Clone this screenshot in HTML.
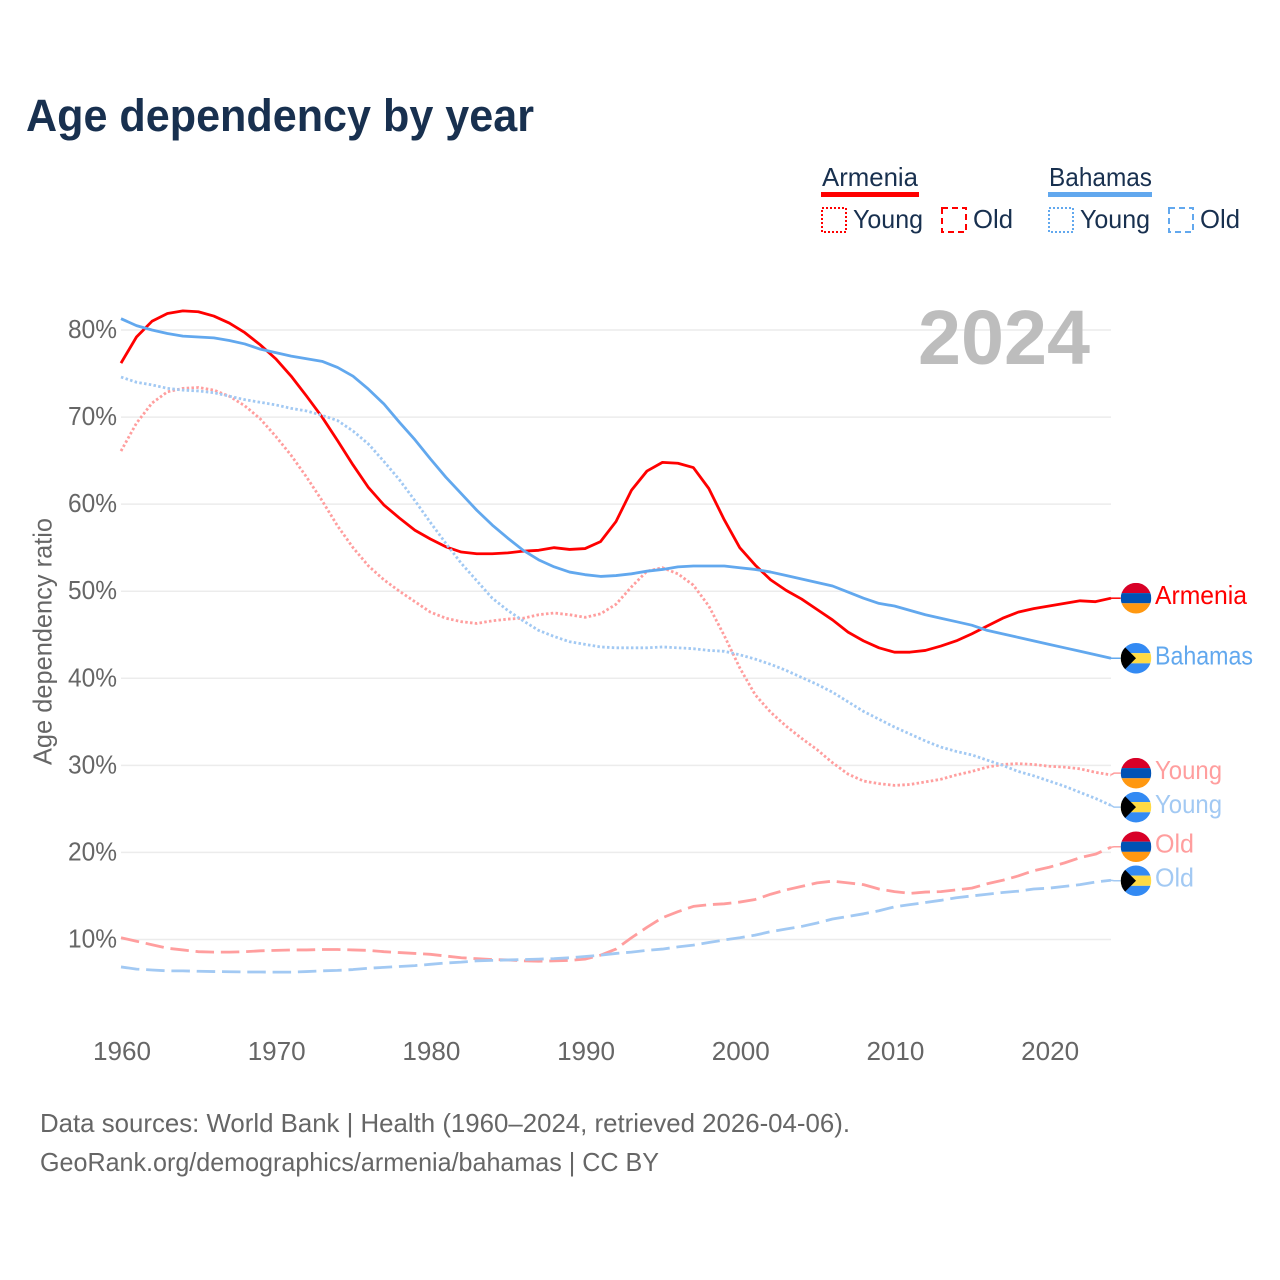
<!DOCTYPE html>
<html lang="en">
<head>
<meta charset="utf-8">
<title>Age dependency by year</title>
<style>
  html, body { margin: 0; padding: 0; background: #fff; }
  svg { display: block; }
  text { font-family: "Liberation Sans", sans-serif; }
</style>
</head>
<body>
<svg id="chart" xmlns="http://www.w3.org/2000/svg" width="1280" height="1280" viewBox="0 0 1280 1280">
  <rect x="0" y="0" width="1280" height="1280" fill="#ffffff"/>
  <text x="26" y="131" font-size="45" font-weight="700" fill="#18304f" textLength="508" lengthAdjust="spacingAndGlyphs">Age dependency by year</text>

  <g>
    <g>
      <text x="822" y="186" font-size="26" fill="#18304f" textLength="96" lengthAdjust="spacingAndGlyphs">Armenia</text>
      <rect x="821" y="192" width="98" height="5" fill="#ff0000"/>
      <rect x="822" y="208" width="24" height="24" fill="none" stroke="#ff0000" stroke-width="2" stroke-dasharray="2 2"/>
      <text x="853" y="228" font-size="26" fill="#18304f" textLength="70" lengthAdjust="spacingAndGlyphs">Young</text>
      <rect x="942" y="208" width="24" height="24" fill="none" stroke="#ff0000" stroke-width="2" stroke-dasharray="6 4"/>
      <text x="973" y="228" font-size="26" fill="#18304f" textLength="40" lengthAdjust="spacingAndGlyphs">Old</text>
    </g>
    <g>
      <text x="1049" y="186" font-size="26" fill="#18304f" textLength="103" lengthAdjust="spacingAndGlyphs">Bahamas</text>
      <rect x="1048" y="192" width="104" height="5" fill="#62a8ee"/>
      <rect x="1049" y="208" width="24" height="24" fill="none" stroke="#62a8ee" stroke-width="2" stroke-dasharray="2 2"/>
      <text x="1080" y="228" font-size="26" fill="#18304f" textLength="70" lengthAdjust="spacingAndGlyphs">Young</text>
      <rect x="1169" y="208" width="24" height="24" fill="none" stroke="#62a8ee" stroke-width="2" stroke-dasharray="6 4"/>
      <text x="1200" y="228" font-size="26" fill="#18304f" textLength="40" lengthAdjust="spacingAndGlyphs">Old</text>
    </g>
  </g>

  <g id="grid"></g>
  <text x="918" y="364" font-size="77" font-weight="700" fill="#bdbdbd" textLength="172" lengthAdjust="spacingAndGlyphs">2024</text>
  <g id="yticks"></g>
  <g id="xticks"></g>
  <text transform="translate(51.5 641.5) rotate(-90)" text-anchor="middle" font-size="26" fill="#666666" textLength="247" lengthAdjust="spacingAndGlyphs">Age dependency ratio</text>
  <g id="series"></g>
  <g id="labels"></g>

  <text x="40" y="1132" font-size="26" fill="#666666" textLength="810" lengthAdjust="spacingAndGlyphs">Data sources: World Bank | Health (1960–2024, retrieved 2026-04-06).</text>
  <text x="40" y="1171" font-size="26" fill="#666666" textLength="619" lengthAdjust="spacingAndGlyphs">GeoRank.org/demographics/armenia/bahamas | CC BY</text>
</svg>

<script>
const startYear = 1960;
const endYear = 2024;
const xTickYears = [1960, 1970, 1980, 1990, 2000, 2010, 2020];
const yTickValues = [10, 20, 30, 40, 50, 60, 70, 80];

const armeniaTotal = [76.2,79.2,81.0,81.9,82.2,82.1,81.6,80.8,79.7,78.3,76.7,74.7,72.4,70.0,67.3,64.5,61.9,59.9,58.4,57.0,56.0,55.1,54.5,54.3,54.3,54.4,54.6,54.7,55.0,54.8,54.9,55.7,58.0,61.6,63.8,64.8,64.7,64.2,61.8,58.2,55.0,53.0,51.3,50.1,49.1,47.9,46.7,45.3,44.3,43.5,43.0,43.0,43.2,43.7,44.3,45.1,46.0,46.9,47.6,48.0,48.3,48.6,48.9,48.8,49.2];
const armeniaYoung = [66.1,69.3,71.6,72.9,73.3,73.4,73.1,72.4,71.3,69.8,67.8,65.6,63.1,60.4,57.5,55.0,52.9,51.3,50.0,48.8,47.6,46.9,46.5,46.3,46.6,46.8,46.9,47.3,47.5,47.3,47.0,47.4,48.5,50.5,52.3,52.7,52.0,50.7,48.3,44.9,41.2,38.1,36.1,34.5,33.1,31.8,30.3,29.0,28.2,27.9,27.7,27.8,28.1,28.4,28.9,29.3,29.8,30.1,30.2,30.1,29.9,29.8,29.6,29.2,28.9];
const armeniaOld = [10.2,9.8,9.4,9.0,8.8,8.6,8.55,8.55,8.6,8.7,8.75,8.8,8.8,8.85,8.85,8.8,8.75,8.6,8.5,8.4,8.3,8.1,7.9,7.8,7.7,7.65,7.55,7.5,7.55,7.6,7.75,8.2,8.9,10.2,11.4,12.5,13.2,13.8,14.0,14.1,14.3,14.6,15.2,15.7,16.1,16.5,16.7,16.5,16.3,15.8,15.5,15.3,15.45,15.5,15.7,15.9,16.4,16.8,17.3,17.9,18.3,18.8,19.4,19.8,20.6];
const bahamasTotal = [81.3,80.5,80.0,79.6,79.3,79.2,79.1,78.8,78.4,77.8,77.4,77.0,76.7,76.4,75.7,74.7,73.2,71.5,69.4,67.4,65.2,63.1,61.2,59.3,57.6,56.1,54.7,53.6,52.8,52.2,51.9,51.7,51.8,52.0,52.3,52.5,52.8,52.9,52.9,52.9,52.7,52.5,52.2,51.8,51.4,51.0,50.6,49.9,49.2,48.6,48.3,47.8,47.3,46.9,46.5,46.1,45.5,45.1,44.7,44.3,43.9,43.5,43.1,42.7,42.3];
const bahamasYoung = [74.6,74.0,73.7,73.3,73.1,73.0,72.8,72.4,72.0,71.7,71.4,71.0,70.7,70.2,69.6,68.4,66.9,64.9,62.8,60.4,57.9,55.5,53.2,51.2,49.2,47.8,46.6,45.5,44.8,44.2,43.9,43.6,43.5,43.5,43.5,43.6,43.5,43.4,43.2,43.1,42.7,42.2,41.6,40.9,40.1,39.3,38.4,37.3,36.2,35.3,34.4,33.6,32.8,32.1,31.6,31.2,30.6,30.0,29.3,28.8,28.2,27.6,26.9,26.2,25.4];
const bahamasOld = [6.85,6.6,6.5,6.4,6.4,6.35,6.32,6.3,6.27,6.27,6.25,6.25,6.32,6.4,6.45,6.55,6.7,6.8,6.9,7.0,7.15,7.3,7.4,7.55,7.6,7.65,7.7,7.75,7.8,7.9,8.05,8.2,8.4,8.55,8.75,8.9,9.15,9.35,9.65,9.95,10.2,10.5,10.9,11.2,11.5,11.9,12.35,12.65,12.95,13.3,13.75,14.0,14.25,14.5,14.8,15.0,15.2,15.4,15.55,15.8,15.9,16.1,16.3,16.6,16.8];

const SVG_NS = 'http://www.w3.org/2000/svg';
const plot = { left: 121, right: 1111 };

function xScale(year) {
  return plot.left + (year - startYear) * (plot.right - plot.left) / (endYear - startYear);
}
function yScale(value) {
  return 939.5 - (value - 10) * 8.707;
}
function make(tag, parent) {
  const el = document.createElementNS(SVG_NS, tag);
  parent.appendChild(el);
  return el;
}

const gridGroup = document.getElementById('grid');
const yTickGroup = document.getElementById('yticks');
yTickValues.forEach(function (v) {
  const line = make('line', gridGroup);
  
  
  line.setAttribute('x1', plot.left);
  line.setAttribute('x2', plot.right);
  line.setAttribute('y1', yScale(v));
  line.setAttribute('y2', yScale(v));
  line.setAttribute('stroke', '#ececec');
  line.setAttribute('stroke-width', '1.5');

  const label = make('text', yTickGroup);
  
  
  label.setAttribute('x', 117);
  label.setAttribute('y', yScale(v) + 8);
  label.setAttribute('text-anchor', 'end');
  label.setAttribute('font-size', '26');
  label.setAttribute('fill', '#666666');
  label.setAttribute('textLength', '49');
  label.setAttribute('lengthAdjust', 'spacingAndGlyphs');
  label.textContent = v + '%';
});

const xTickGroup = document.getElementById('xticks');
xTickYears.forEach(function (year) {
  const label = make('text', xTickGroup);
  
  
  label.setAttribute('x', xScale(year) + 1);
  label.setAttribute('y', 1060);
  label.setAttribute('text-anchor', 'middle');
  label.setAttribute('font-size', '26');
  label.setAttribute('fill', '#666666');
  label.setAttribute('textLength', '58');
  label.setAttribute('lengthAdjust', 'spacingAndGlyphs');
  label.textContent = year;
});

const RED = '#ff0000';
const BLUE = '#62a8ee';
const LIGHT_RED = '#ff9e9e';
const LIGHT_BLUE = '#a2c9f3';
const DOTTED = '2.5 2.3';
const DASHED = '18.5 6.8';

const seriesList = [
  { id: 'armenia-total', values: armeniaTotal, color: RED, dash: null, label: 'Armenia', flag: 'am' },
  { id: 'armenia-young', values: armeniaYoung, color: LIGHT_RED, dash: DOTTED, label: 'Young', flag: 'am' },
  { id: 'armenia-old', values: armeniaOld, color: LIGHT_RED, dash: DASHED, label: 'Old', flag: 'am' },
  { id: 'bahamas-total', values: bahamasTotal, color: BLUE, dash: null, label: 'Bahamas', flag: 'bs' },
  { id: 'bahamas-young', values: bahamasYoung, color: LIGHT_BLUE, dash: DOTTED, label: 'Young', flag: 'bs' },
  { id: 'bahamas-old', values: bahamasOld, color: LIGHT_BLUE, dash: DASHED, label: 'Old', flag: 'bs' }
];

const seriesGroup = document.getElementById('series');
seriesList.forEach(function (s) {
  const points = s.values.map(function (v, i) {
    return xScale(startYear + i).toFixed(2) + ',' + yScale(v).toFixed(2);
  }).join(' ');
  const line = make('polyline', seriesGroup);
  
  
  line.setAttribute('points', points);
  line.setAttribute('fill', 'none');
  line.setAttribute('stroke', s.color);
  line.setAttribute('stroke-width', '2.8');
  line.setAttribute('stroke-linejoin', 'round');
  if (s.dash) line.setAttribute('stroke-dasharray', s.dash);
});

/* End labels: start at the last data value, then spread close pairs apart. */
const MIN_LABEL_GAP = 34;
const placed = seriesList.map(function (s) {
  const endY = yScale(s.values[s.values.length - 1]);
  return { s: s, endY: endY, y: endY };
}).sort(function (a, b) { return a.endY - b.endY; });
for (let i = 1; i < placed.length; i++) {
  const gap = placed[i].y - placed[i - 1].y;
  if (gap < MIN_LABEL_GAP) {
    const push = (MIN_LABEL_GAP - gap) / 2;
    placed[i - 1].y -= push;
    placed[i].y += push;
  }
}

const labelWidths = { Armenia: 92, Bahamas: 98, Young: 67, Old: 39 };
const labelsGroup = document.getElementById('labels');
const defs = make('defs', labelsGroup);
const FLAG_CX = 1136;
const FLAG_R = 15.3;

function band(parent, name, y, h, color) {
  const r = make('rect', parent);
  
  
  r.setAttribute('x', FLAG_CX - FLAG_R);
  r.setAttribute('y', y);
  r.setAttribute('width', FLAG_R * 2);
  r.setAttribute('height', h);
  r.setAttribute('fill', color);
}

placed.forEach(function (p) {
  const s = p.s;
  const leader = make('polyline', labelsGroup);
  
  
  leader.setAttribute('points', plot.right + ',' + p.endY.toFixed(2) + ' ' + (plot.right + 3) + ',' + p.y.toFixed(2) + ' ' + (FLAG_CX - FLAG_R) + ',' + p.y.toFixed(2));
  leader.setAttribute('fill', 'none');
  leader.setAttribute('stroke', s.color);
  leader.setAttribute('stroke-width', '1.5');

  const clip = make('clipPath', defs);
  clip.setAttribute('id', 'clip-' + s.id);
  const clipCircle = make('circle', clip);
  clipCircle.setAttribute('cx', FLAG_CX);
  clipCircle.setAttribute('cy', p.y);
  clipCircle.setAttribute('r', FLAG_R);

  const flag = make('g', labelsGroup);
  
  
  flag.setAttribute('clip-path', 'url(#clip-' + s.id + ')');
  const top = p.y - FLAG_R;
  const third = FLAG_R * 2 / 3;
  if (s.flag === 'am') {
    band(flag, 'flag-band-red', top, third, '#d80027');
    band(flag, 'flag-band-blue', top + third, third, '#0052b4');
    band(flag, 'flag-band-orange', top + 2 * third, third, '#ff9811');
  } else {
    band(flag, 'flag-band-top', top, third, '#338af3');
    band(flag, 'flag-band-middle', top + third, third, '#ffda44');
    band(flag, 'flag-band-bottom', top + 2 * third, third, '#338af3');
    const tri = make('polygon', flag);
    
    
    tri.setAttribute('points', (FLAG_CX - FLAG_R) + ',' + top + ' ' + FLAG_CX + ',' + p.y + ' ' + (FLAG_CX - FLAG_R) + ',' + (top + 2 * FLAG_R));
    tri.setAttribute('fill', '#000000');
  }

  const label = make('text', labelsGroup);
  
  
  label.setAttribute('x', 1155);
  label.setAttribute('y', p.y + 6);
  label.setAttribute('font-size', '26');
  label.setAttribute('fill', s.color);
  label.setAttribute('textLength', labelWidths[s.label]);
  label.setAttribute('lengthAdjust', 'spacingAndGlyphs');
  label.textContent = s.label;
});
</script>
</body>
</html>
